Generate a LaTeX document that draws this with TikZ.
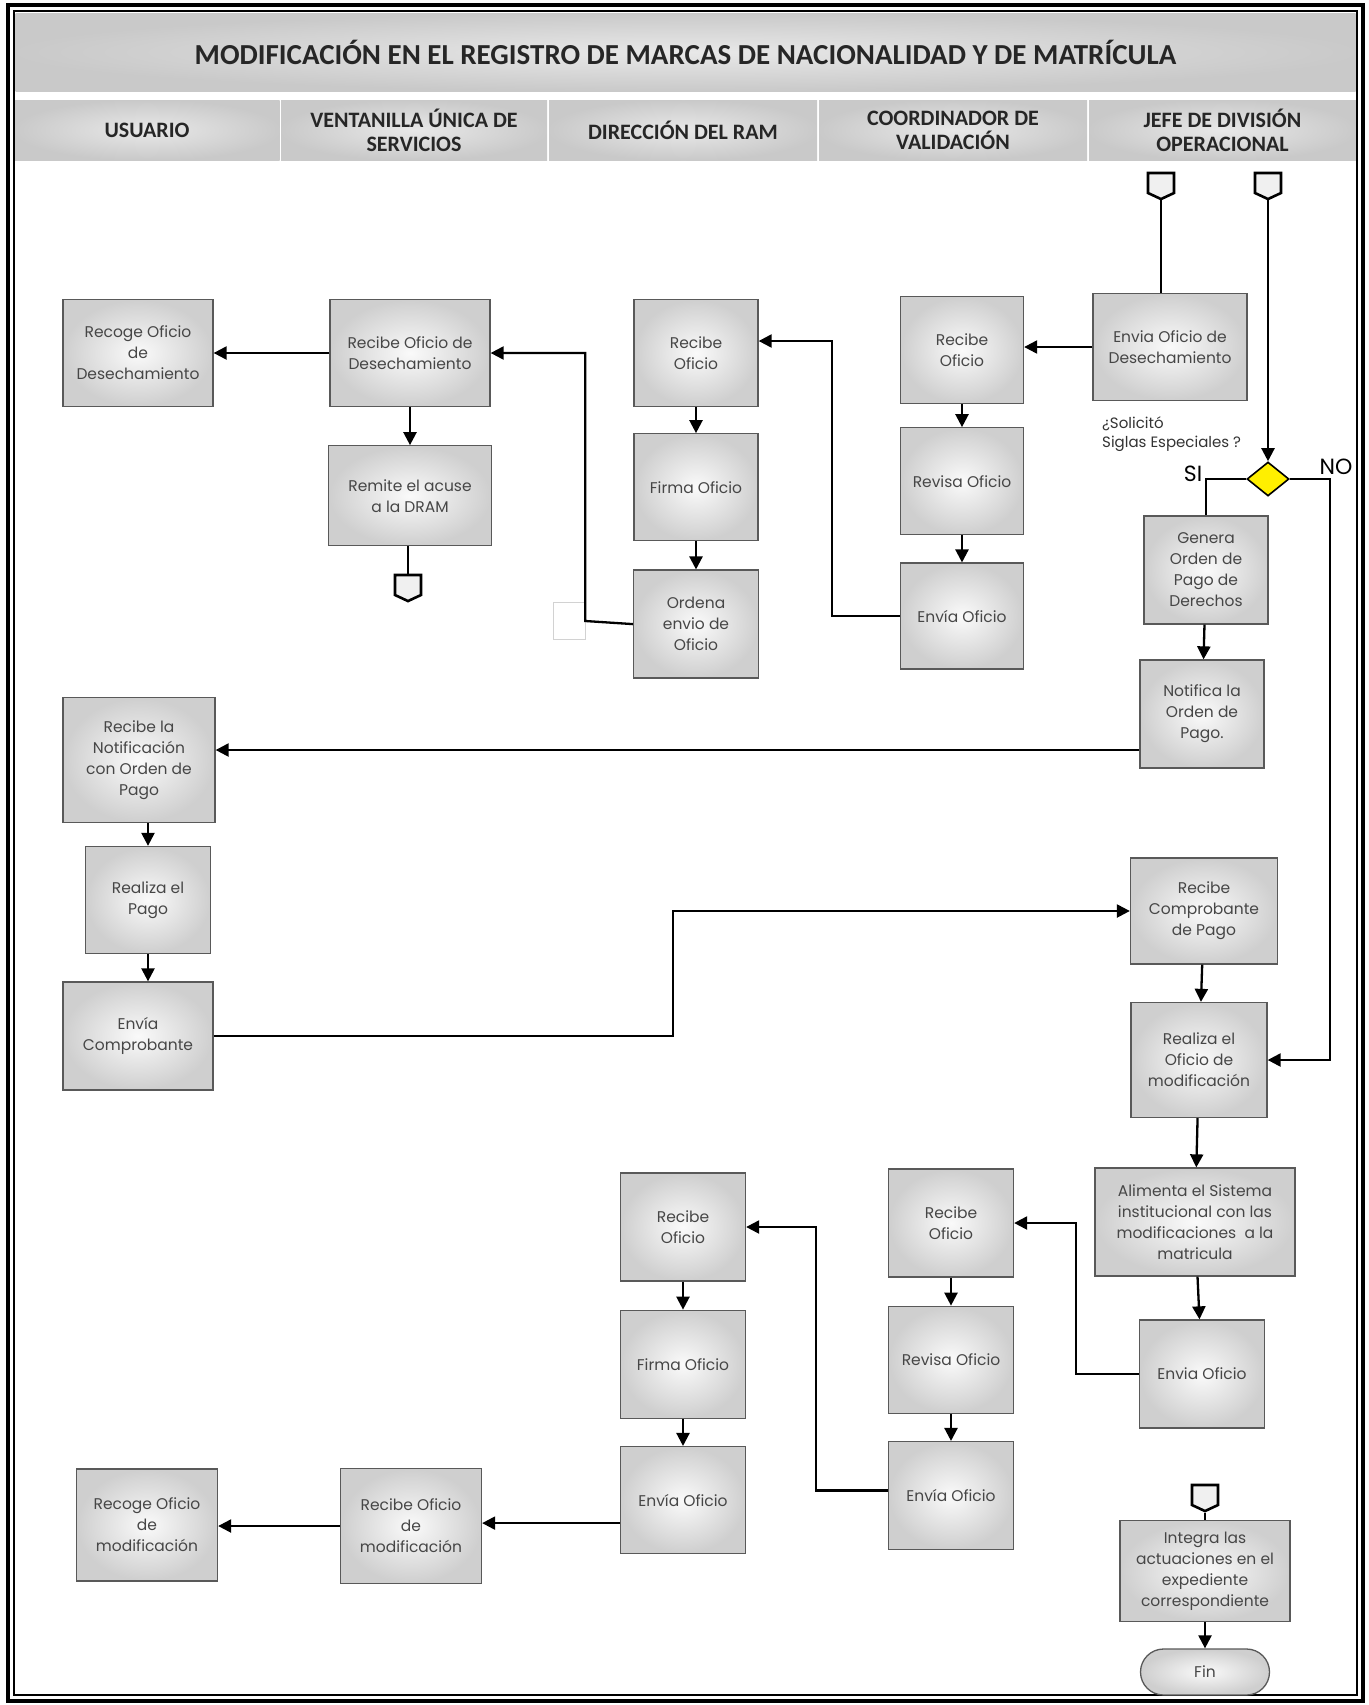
\documentclass[tikz,border=0pt]{standalone}
\usepackage{fontspec}
\setmainfont{Poppins}
\newfontfamily\encab{Carlito}
\usepackage{tikz}
\usetikzlibrary{positioning,arrows.meta,shapes.geometric,shapes.symbols}
\definecolor{grisbanda}{RGB}{200,200,200}
\definecolor{amarillodec}{RGB}{255,239,0}
\definecolor{textocaja}{RGB}{70,70,70}

\tikzset{
  tarea/.style={rectangle, draw=gray!70!black, line width=1.3pt, inner color=gray!4, outer color=gray!38,
    text=textocaja, align=center, inner sep=2pt, font=\fontsize{15.5}{21}\selectfont},
  fin/.style={tarea, rounded corners=23pt},
  flecha/.style={line width=2.3pt, -{Triangle[length=13pt,width=13pt]}},
  linea/.style={line width=2.3pt},
  conector/.style={signal, signal to=south, signal from=nowhere, signal pointer angle=130,
    draw=black, line width=2.6pt, fill=gray!12, minimum width=26pt, minimum height=20pt, inner sep=0pt},
  decision/.style={diamond, draw=black, line width=1.6pt, fill=amarillodec, minimum width=42pt,
    minimum height=34pt, inner sep=0pt},
  encabezado/.style={rectangle, inner color=gray!18, outer color=gray!42, text=black!85, align=center,
    font=\encab\bfseries\fontsize{22}{24}\selectfont, minimum height=60pt, inner sep=0pt},
  carril/.style={draw=gray!45, line width=0.7pt, double=white, double distance=1.2pt}
}

\begin{document}
\begin{tikzpicture}[x=1pt, y=-1pt]
\useasboundingbox (0,0) rectangle (1368,1705);
\fill[white] (0,0) rectangle (1368,1705);

% marco, titulo y carriles
\node[encabezado, minimum width=1340pt, minimum height=78pt, font=\encab\bfseries\fontsize{29}{33}\selectfont]
  (titulo) at (685.5,52) {MODIFICACIÓN EN EL REGISTRO DE MARCAS DE NACIONALIDAD Y DE MATRÍCULA};
\node[encabezado, minimum width=265pt] (hUsuario) at (147,130) {USUARIO};
\node[encabezado, minimum width=266pt] (hVentanilla) at (414,130) {VENTANILLA ÚNICA DE\\SERVICIOS};
\node[encabezado, minimum width=268pt] (hDireccion) at (683,130) {DIRECCIÓN DEL RAM};
\node[encabezado, minimum width=268pt] (hCoordinador) at (953,130) {COORDINADOR DE\\VALIDACIÓN};
\node[encabezado, minimum width=267pt] (hJefe) at (1222.5,130) {JEFE DE DIVISIÓN\\OPERACIONAL};
\foreach \xc in {280,548,818,1088}
  \draw[carril] (\xc,161) -- (\xc,1690);
\draw[line width=4pt] (8,5) rectangle (1363,1701);
\draw[line width=1.2pt] (14,11) rectangle (1357,1695);

% primera parte: desechamiento
\node[tarea, minimum width=150pt, minimum height=107pt] (recogeDes) at (138,353) {Recoge Oficio\\de\\Desechamiento};
\node[tarea, minimum width=160pt, minimum height=107pt] (recibeDes) at (410,353) {Recibe Oficio de\\Desechamiento};
\node[tarea, minimum width=163pt, minimum height=100pt, below=38pt of recibeDes] (remite) {Remite el acuse\\a la DRAM};
\node[conector] (conRemite) at (408,585) {};
\node[tarea, minimum width=124pt, minimum height=107pt] (recibeRam1) at (696,353) {Recibe\\Oficio};
\node[tarea, minimum width=124pt, minimum height=107pt, below=26pt of recibeRam1] (firmaRam1) {Firma Oficio};
\node[tarea, minimum width=125pt, minimum height=108pt, below=28pt of firmaRam1] (ordena) {Ordena\\envio de\\Oficio};
\node[rectangle, draw=gray!35, fill=white, minimum width=32pt, minimum height=37pt, inner sep=0pt] (vacio) at (569,621) {};
\node[tarea, minimum width=123pt, minimum height=107pt] (recibeCoord1) at (962,350) {Recibe\\Oficio};
\node[tarea, minimum width=123pt, minimum height=107pt, below=23pt of recibeCoord1] (revisaCoord1) {Revisa Oficio};
\node[tarea, minimum width=123pt, minimum height=106pt, below=27pt of revisaCoord1] (enviaCoord1) {Envía Oficio};
\node[conector] (conDes) at (1161,183) {};
\node[conector] (conSiglas) at (1268,183) {};
\node[tarea, minimum width=154pt, minimum height=107pt] (enviaDes) at (1170,347) {Envia Oficio de\\Desechamiento};

% decision y orden de pago
\node[anchor=west, align=left, text=black!80, inner sep=0pt, font=\fontsize{15}{19}\selectfont]
  (pregunta) at (1102,434) {¿Solicitó\\Siglas Especiales ?};
\node[decision] (siglas) at (1268,479) {};
\node[font=\fontsize{22}{24}\selectfont, inner sep=0pt] (lblSi) at (1193,474) {SI};
\node[font=\fontsize{22}{24}\selectfont, inner sep=0pt] (lblNo) at (1336,467) {NO};
\node[tarea, minimum width=124pt, minimum height=108pt] (genera) at (1206,570) {Genera\\Orden de\\Pago de\\Derechos};
\node[tarea, minimum width=124pt, minimum height=108pt] (notifica) at (1202,714) {Notifica la\\Orden de\\Pago.};
\node[tarea, minimum width=152pt, minimum height=125pt] (recibeNot) at (139,760) {Recibe la\\Notificación\\con Orden de\\Pago};
\node[tarea, minimum width=125pt, minimum height=107pt] (realizaPago) at (148,900) {Realiza el\\Pago};
\node[tarea, minimum width=150pt, minimum height=108pt] (enviaComp) at (138,1036) {Envía\\Comprobante};
\node[tarea, minimum width=147pt, minimum height=106pt] (recibeComp) at (1204,911) {Recibe\\Comprobante\\de Pago};
\node[tarea, minimum width=136pt, minimum height=115pt] (realizaOf) at (1199,1060) {Realiza el\\Oficio de\\modificación};

% segunda parte: modificacion
\node[tarea, minimum width=200pt, minimum height=108pt] (alimenta) at (1195,1222) {Alimenta el Sistema\\institucional con las\\modificaciones~ a la\\matricula};
\node[tarea, minimum width=125pt, minimum height=108pt] (enviaJefe) at (1202,1374) {Envia Oficio};
\node[tarea, minimum width=125pt, minimum height=108pt] (recibeCoord2) at (951,1223) {Recibe\\Oficio};
\node[tarea, minimum width=125pt, minimum height=107pt, below=28pt of recibeCoord2] (revisaCoord2) {Revisa Oficio};
\node[tarea, minimum width=125pt, minimum height=108pt, below=27pt of revisaCoord2] (enviaCoord2) {Envía Oficio};
\node[tarea, minimum width=125pt, minimum height=108pt] (recibeRam2) at (683,1227) {Recibe\\Oficio};
\node[tarea, minimum width=125pt, minimum height=108pt, below=28pt of recibeRam2] (firmaRam2) {Firma Oficio};
\node[tarea, minimum width=125pt, minimum height=107pt, below=27pt of firmaRam2] (enviaRam2) {Envía Oficio};
\node[tarea, minimum width=141pt, minimum height=115pt] (recibeMod) at (411,1526) {Recibe Oficio\\de\\modificación};
\node[tarea, minimum width=141pt, minimum height=112pt] (recogeMod) at (147,1525) {Recoge Oficio\\de\\modificación};
\node[conector] (conIntegra) at (1205,1495) {};
\node[tarea, minimum width=170pt, minimum height=101pt] (integra) at (1205,1571) {Integra las\\actuaciones en el\\expediente\\correspondiente};
\node[fin, minimum width=129pt, minimum height=46pt] (finNodo) at (1205,1672) {Fin};

% conexiones
\draw[flecha] (recibeDes.west) -- (recibeDes.west -| recogeDes.east);
\draw[flecha] (recibeDes) -- (remite);
\draw[linea] (conRemite.north |- remite.south) -- (conRemite.north);
\draw[flecha] (recibeRam1) -- (firmaRam1);
\draw[flecha] (firmaRam1) -- (ordena);
\draw[flecha] (ordena.west) -- (vacio.east) |- (recibeDes.east);
\draw[flecha] (enviaCoord1.west) -- ++(-68,0) |- ([yshift=12pt]recibeRam1.east);
\draw[flecha] (recibeCoord1) -- (revisaCoord1);
\draw[flecha] (revisaCoord1) -- (enviaCoord1);
\draw[flecha] (enviaDes.west) -- (enviaDes.west -| recibeCoord1.east);
\draw[linea] (conDes.south) -- (conDes.south |- enviaDes.north);
\draw[flecha] (conSiglas.south) -- (siglas.north);
\draw[linea] (siglas.west) -| (genera.north);
\draw[flecha] (siglas.east) -- ++(40,0) |- (realizaOf.east);
\draw[flecha] (genera) -- (notifica);
\draw[flecha] ([yshift=-36pt]notifica.west) -- ([yshift=-36pt]notifica.west -| recibeNot.east);
\draw[flecha] (realizaPago.north |- recibeNot.south) -- (realizaPago.north);
\draw[flecha] (realizaPago.south) -- (realizaPago.south |- enviaComp.north);
\draw[flecha] (enviaComp.east) -- ++(459,0) |- (recibeComp.west);
\draw[flecha] (recibeComp) -- (realizaOf);
\draw[flecha] (realizaOf) -- (alimenta);
\draw[flecha] (alimenta) -- (enviaJefe);
\draw[flecha] (enviaJefe.west) -- ++(-63,0) |- (recibeCoord2.east);
\draw[flecha] (recibeCoord2) -- (revisaCoord2);
\draw[flecha] (revisaCoord2) -- (enviaCoord2);
\draw[flecha] ([yshift=5pt]enviaCoord2.west) -- ++(-72,0) |- (recibeRam2.east);
\draw[flecha] (recibeRam2) -- (firmaRam2);
\draw[flecha] (firmaRam2) -- (enviaRam2);
\draw[flecha] ([yshift=-23pt]enviaRam2.west) -- ([yshift=-23pt]enviaRam2.west -| recibeMod.east);
\draw[flecha] (recibeMod.west) -- (recibeMod.west -| recogeMod.east);
\draw[linea] (conIntegra.south) -- (integra.north);
\draw[flecha] (integra) -- (finNodo);
\end{tikzpicture}
\end{document}
